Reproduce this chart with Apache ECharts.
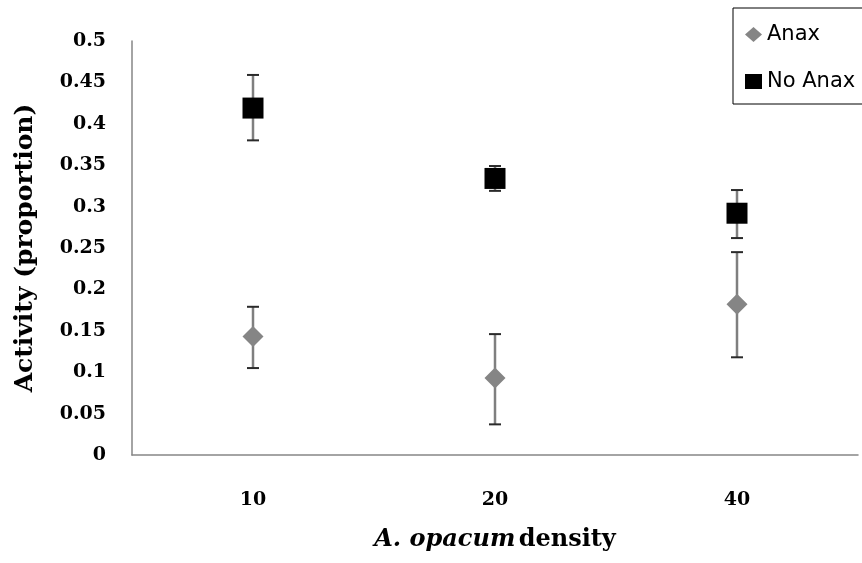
<!DOCTYPE html>
<html><head><meta charset="utf-8">
<script src="https://cdn.jsdelivr.net/npm/echarts@6/dist/echarts.min.js"></script>
<style>html,body{margin:0;padding:0;background:#fff}#c{width:862px;height:563px}</style>
</head><body><div id="c"></div>
<script>
var categories = ['10', '20', '40'];
var anaxMean = [0.143, 0.093, 0.182];
var anaxLow = [0.105, 0.037, 0.118];
var anaxHigh = [0.179, 0.146, 0.245];
var noAnaxMean = [0.419, 0.334, 0.292];
var noAnaxLow = [0.380, 0.319, 0.262];
var noAnaxHigh = [0.459, 0.349, 0.320];
var yTicks = [0, 0.05, 0.1, 0.15, 0.2, 0.25, 0.3, 0.35, 0.4, 0.45, 0.5];

function errData(lo, hi) {
  return categories.map(function (c, i) { return [i, lo[i], hi[i]]; });
}
function errRender(params, api) {
  var x = api.value(0);
  var lo = api.coord([x, api.value(1)]);
  var hi = api.coord([x, api.value(2)]);
  var w = 6;
  return {
    type: 'group',
    children: [
      { type: 'line', shape: { x1: lo[0], y1: lo[1], x2: hi[0], y2: hi[1] }, style: { stroke: '#7f7f7f', lineWidth: 2.5 } },
      { type: 'line', shape: { x1: lo[0] - w, y1: lo[1], x2: lo[0] + w, y2: lo[1] }, style: { stroke: '#2a2a2a', lineWidth: 2 } },
      { type: 'line', shape: { x1: hi[0] - w, y1: hi[1], x2: hi[0] + w, y2: hi[1] }, style: { stroke: '#2a2a2a', lineWidth: 2 } }
    ]
  };
}
var chart = echarts.init(document.getElementById('c'));
chart.setOption({
  animation: false,
  backgroundColor: '#fff',
  grid: { left: 132, right: 4, top: 41, bottom: 108, containLabel: false, outerBoundsMode: 'none' },
  legend: {
    left: 733, top: 8,
    orient: 'vertical',
    itemGap: 26,
    itemWidth: 17, itemHeight: 15,
    padding: [16, 40, 12, 12],
    borderColor: '#000', borderWidth: 1,
    textStyle: { fontFamily: 'DejaVu Sans', fontSize: 21, color: '#000', padding: [0, 0, 0, 0] },
    data: [{ name: 'Anax', icon: 'diamond' }, { name: 'No Anax', icon: 'rect' }]
  },
  xAxis: {
    type: 'category',
    data: categories,
    axisTick: { show: false },
    axisLine: { lineStyle: { color: '#868686', width: 1.5 } },
    axisLabel: { margin: 36, fontFamily: 'DejaVu Serif', fontWeight: 'bold', fontSize: 19, color: '#000' },
    name: '{i|A. opacum} {b|density}',
    nameLocation: 'middle',
    nameGap: 73,
    nameTextStyle: {
      rich: {
        i: { fontFamily: 'DejaVu Serif', fontStyle: 'italic', fontWeight: 'bold', fontSize: 24, color: '#000' },
        b: { fontFamily: 'DejaVu Serif', fontWeight: 'bold', fontSize: 24, color: '#000' }
      }
    }
  },
  yAxis: {
    type: 'value',
    min: yTicks[0], max: yTicks[yTicks.length - 1], interval: 0.05,
    splitLine: { show: false },
    axisTick: { show: false },
    axisLine: { show: true, lineStyle: { color: '#868686', width: 1.5 } },
    axisLabel: { margin: 26, fontFamily: 'DejaVu Serif', fontWeight: 'bold', fontSize: 19, color: '#000' },
    name: 'Activity (proportion)',
    nameLocation: 'middle',
    nameGap: 94,
    nameTextStyle: { fontFamily: 'DejaVu Serif', fontWeight: 'bold', fontSize: 25, color: '#000' }
  },
  series: [
    { type: 'custom', name: 'errAnax', data: errData(anaxLow, anaxHigh), renderItem: errRender, z: 1, silent: true },
    { type: 'custom', name: 'errNoAnax', data: errData(noAnaxLow, noAnaxHigh), renderItem: errRender, z: 1, silent: true },
    { type: 'scatter', name: 'Anax', data: anaxMean, symbol: 'diamond', symbolSize: 21, itemStyle: { color: '#858585', opacity: 1 }, z: 5 },
    { type: 'scatter', name: 'No Anax', data: noAnaxMean, symbol: 'rect', symbolSize: 21, itemStyle: { color: '#000', opacity: 1 }, z: 5 }
  ]
});
</script></body></html>
